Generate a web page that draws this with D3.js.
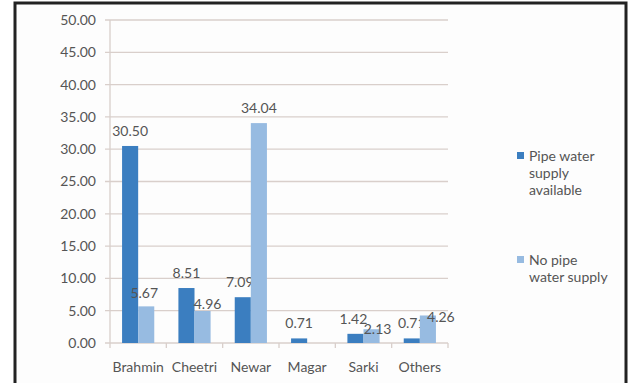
<!DOCTYPE html>
<html>
<head>
<meta charset="utf-8">
<script src="https://cdn.jsdelivr.net/npm/d3@7"></script>
<style>
  body { margin: 0; background: #fff; }
  text { font-family: Lato, "Open Sans", sans-serif; fill: #555; }
</style>
</head>
<body>
<script>
const categories = ["Brahmin", "Cheetri", "Newar", "Magar", "Sarki", "Others"];
const pipeAvailable = [30.50, 8.51, 7.09, 0.71, 1.42, 0.71];
const noPipe = [5.67, 4.96, 34.04, null, 2.13, 4.26];
const seriesNames = ["Pipe water supply available", "No pipe water supply"];
const yTicks = [0, 5, 10, 15, 20, 25, 30, 35, 40, 45, 50];

// label nudges [dx, dy] as placed in the original (per series, per category)
const labelNudge = [
    [[0, 0], [0, 0], [-3, 0], [0, 0], [-2, 0], [0, 0]],
    [[-2, 2], [5, 8], [0, 0], [0, 0], [6, 15], [13, 17]]
];

const width = 636, height = 383;
const colors = ["#3b7ec0", "#97bbe1"];
const fontSize = 14;

const svg = d3.select("body").append("svg")
    .attr("width", width)
    .attr("height", height);

// frame
svg.append("rect")
    .attr("x", 15).attr("y", 3)
    .attr("width", 611).attr("height", 400)
    .attr("fill", "#fdfdfd")
    .attr("stroke", "#222")
    .attr("stroke-width", 3);

const x = d3.scaleBand().domain(categories).range([110, 448]);
const inner = d3.scaleBand().domain([0, 1]).range([0, x.bandwidth()]).paddingOuter(0.75).paddingInner(0);
const y = d3.scaleLinear().domain([0, 50]).range([343, 20]);

// gridlines
svg.append("g").selectAll("line")
    .data(yTicks)
    .join("line")
    .attr("x1", 105).attr("x2", 448)
    .attr("y1", d => y(d)).attr("y2", d => y(d))
    .attr("stroke", "#d9cfcb")
    .attr("stroke-width", 1.3);

// y axis line
svg.append("line")
    .attr("x1", 110).attr("x2", 110)
    .attr("y1", y(50)).attr("y2", y(0))
    .attr("stroke", "#d9cfcb").attr("stroke-width", 1.3);

// y tick labels
svg.append("g").selectAll("text")
    .data(yTicks)
    .join("text")
    .attr("x", 96)
    .attr("y", d => y(d))
    .attr("dy", "0.35em")
    .attr("text-anchor", "end")
    .attr("font-size", fontSize)
    .text(d => d3.format(".2f")(d));

// x tick marks
svg.append("g").selectAll("line")
    .data(d3.range(categories.length + 1))
    .join("line")
    .attr("x1", i => 110 + i * x.step()).attr("x2", i => 110 + i * x.step())
    .attr("y1", y(0)).attr("y2", y(0) + 5)
    .attr("stroke", "#d9cfcb").attr("stroke-width", 1.3);

// x labels
svg.append("g").selectAll("text")
    .data(categories)
    .join("text")
    .attr("x", d => x(d) + x.bandwidth() / 2)
    .attr("y", 372)
    .attr("text-anchor", "middle")
    .attr("font-size", fontSize)
    .text(d => d);

// bars
const series = [pipeAvailable, noPipe];
series.forEach((vals, s) => {
    const data = categories.map((c, i) => ({ c, i, v: vals[i] })).filter(d => d.v != null);
    svg.append("g").selectAll("rect")
        .data(data)
        .join("rect")
        .attr("x", d => x(d.c) + inner(s))
        .attr("y", d => y(d.v))
        .attr("width", inner.bandwidth())
        .attr("height", d => y(0) - y(d.v))
        .attr("fill", colors[s]);
    svg.append("g").selectAll("text")
        .data(data)
        .join("text")
        .attr("x", d => x(d.c) + inner(s) + inner.bandwidth() / 2 + labelNudge[s][d.i][0])
        .attr("y", d => y(d.v) - 10 + labelNudge[s][d.i][1])
        .attr("text-anchor", "middle")
        .attr("font-size", fontSize)
        .text(d => d3.format(".2f")(d.v));
});

// legend
const legendItems = [
    { lines: ["Pipe water", "supply", "available"], y: 161 },
    { lines: ["No pipe", "water supply"], y: 265 }
];
legendItems.forEach((item, i) => {
    svg.append("rect")
        .attr("x", 517).attr("y", item.y - 9)
        .attr("width", 7).attr("height", 7)
        .attr("fill", colors[i]);
    const t = svg.append("text")
        .attr("x", 529).attr("y", item.y)
        .attr("font-size", fontSize);
    item.lines.forEach((l, j) => {
        t.append("tspan")
            .attr("x", 529)
            .attr("dy", j === 0 ? 0 : 17)
            .text(l);
    });
});
</script>
</body>
</html>
